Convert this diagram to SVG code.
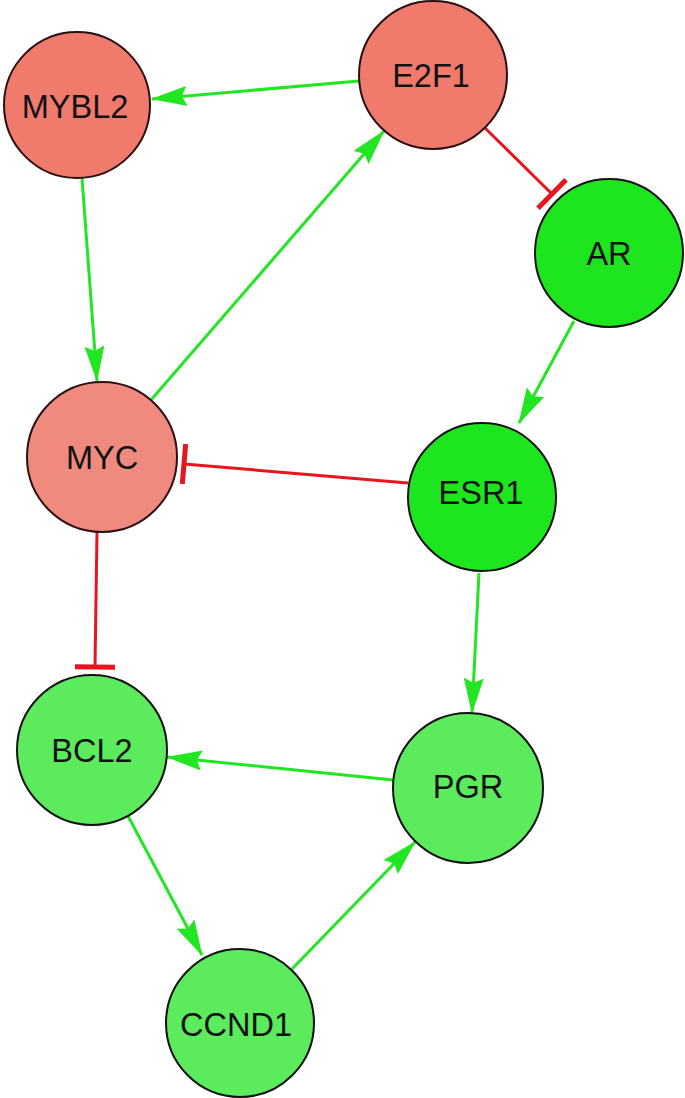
<svg xmlns="http://www.w3.org/2000/svg" width="685" height="1098" viewBox="0 0 685 1098">
<style>
.act{stroke:#22e622;stroke-width:3;fill:none;marker-end:url(#arr)}
.inh{stroke:#e8141e;stroke-width:3;fill:none;marker-end:url(#tee)}
.node circle{stroke:#2a1010;stroke-width:2}
.red circle{fill:#f07a6c}
.red2 circle{fill:#f08a7e}
.grn circle{fill:#1ee61e;stroke:#111}
.grn2 circle{fill:#5ceb5c;stroke:#111}
.node text{font-family:"Liberation Sans",Arial,sans-serif;font-size:32.5px;fill:#111;text-anchor:middle;dominant-baseline:central}
</style>
<defs>
<marker id="arr" markerUnits="userSpaceOnUse" markerWidth="36" markerHeight="20" viewBox="0 0 36 20" refX="35" refY="10" orient="auto">
<path d="M0,0 L36,10 L0,20 L5,10 z" fill="#22e622"/>
</marker>
<marker id="tee" markerUnits="userSpaceOnUse" markerWidth="6" markerHeight="40" viewBox="0 0 6 40" refX="3" refY="20" orient="auto">
<path d="M3,0 V40" stroke="#e8141e" stroke-width="5"/>
</marker>
</defs>
<g id="edges">
<line class="act" x1="359" y1="81" x2="152" y2="99"/>
<line class="act" x1="82" y1="178" x2="97" y2="381"/>
<line class="act" x1="151" y1="400" x2="384" y2="131"/>
<line class="inh" x1="485" y1="128" x2="552" y2="194"/>
<line class="act" x1="574" y1="321" x2="519" y2="423"/>
<line class="inh" x1="408" y1="483" x2="184" y2="464"/>
<line class="inh" x1="97" y1="532" x2="95" y2="667"/>
<line class="act" x1="479" y1="573" x2="472" y2="713"/>
<line class="act" x1="393" y1="780" x2="167" y2="757"/>
<line class="act" x1="128" y1="816" x2="202" y2="955"/>
<line class="act" x1="292" y1="969" x2="415" y2="842"/>
</g>
<g id="MYBL2" class="node red"><circle cx="77" cy="105" r="73"/><text x="75" y="107">MYBL2</text></g>
<g id="E2F1" class="node red"><circle cx="433" cy="75" r="74"/><text x="431" y="76">E2F1</text></g>
<g id="AR" class="node grn"><circle cx="609" cy="253" r="74"/><text x="609" y="254">AR</text></g>
<g id="MYC" class="node red2"><circle cx="102" cy="457" r="75"/><text x="102" y="458">MYC</text></g>
<g id="ESR1" class="node grn"><circle cx="482" cy="497" r="74"/><text x="481" y="493">ESR1</text></g>
<g id="BCL2" class="node grn2"><circle cx="92" cy="750" r="75"/><text x="92" y="751">BCL2</text></g>
<g id="PGR" class="node grn2"><circle cx="468" cy="788" r="75"/><text x="468" y="787">PGR</text></g>
<g id="CCND1" class="node grn2"><circle cx="240" cy="1023" r="74"/><text x="236" y="1025">CCND1</text></g>
</svg>
